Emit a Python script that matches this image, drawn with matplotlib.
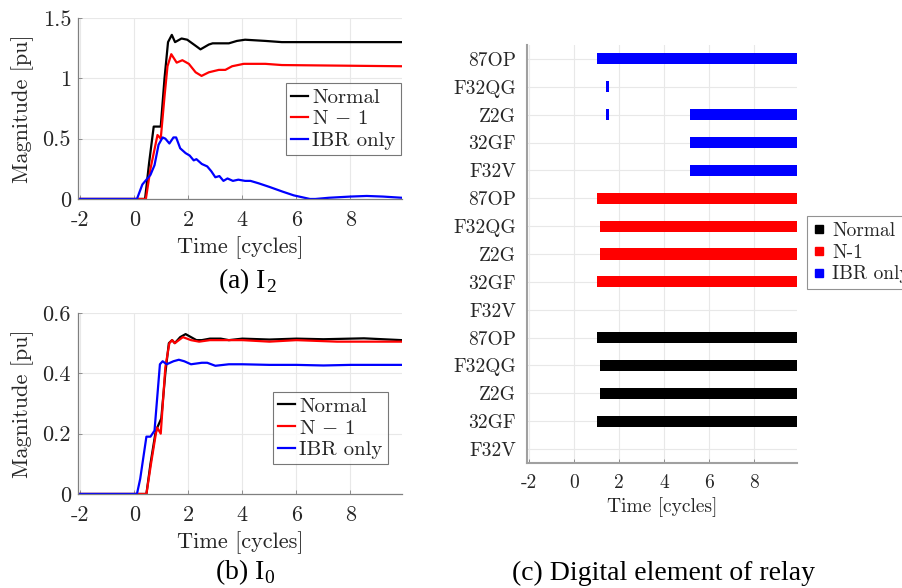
import matplotlib
matplotlib.use('Agg')
import matplotlib.pyplot as plt
from matplotlib.lines import Line2D
from matplotlib.ticker import FuncFormatter

plt.rcParams['font.family'] = 'cmr10'
plt.rcParams['mathtext.fontset'] = 'cm'
plt.rcParams['axes.unicode_minus'] = False

# (a) negative-sequence current I2
t_i2_normal = [-2.1, 0.40, 0.55, 0.72, 0.98, 1.12, 1.25, 1.39, 1.51, 1.75, 1.96, 2.33, 2.45, 2.76, 2.90,
               3.50, 3.80, 4.10, 4.85, 5.46, 9.9]
i2_normal = [0, 0, 0.30, 0.60, 0.60, 1.00, 1.30, 1.36, 1.30, 1.33, 1.32, 1.26, 1.24, 1.28, 1.29,
             1.29, 1.31, 1.32, 1.31, 1.30, 1.30]
t_i2_n1 = [-2.1, 0.43, 0.60, 0.86, 0.98, 1.12, 1.23, 1.37, 1.57, 1.78, 2.02, 2.27, 2.49, 2.76, 3.13,
           3.37, 3.62, 4.05, 4.85, 5.46, 9.9]
i2_n1 = [0, 0, 0.25, 0.53, 0.50, 0.85, 1.10, 1.20, 1.13, 1.15, 1.12, 1.05, 1.02, 1.05, 1.07,
         1.07, 1.10, 1.12, 1.12, 1.11, 1.10]
t_i2_ibr = [-2.1, 0.10, 0.30, 0.60, 0.75, 0.90, 1.05, 1.15, 1.30, 1.45, 1.55, 1.70, 1.90, 2.05, 2.20,
            2.30, 2.50, 2.70, 2.85, 3.00, 3.15, 3.30, 3.45, 3.65, 3.85, 4.10, 4.30, 4.60, 5.00,
            5.50, 5.90, 6.50, 6.70, 7.20, 8.00, 8.60, 9.20, 9.9]
i2_ibr = [0, 0, 0.12, 0.20, 0.28, 0.45, 0.51, 0.50, 0.46, 0.51, 0.51, 0.42, 0.38, 0.36, 0.32,
          0.33, 0.29, 0.27, 0.23, 0.18, 0.19, 0.15, 0.17, 0.15, 0.16, 0.15, 0.15, 0.13, 0.10,
          0.06, 0.03, 0.00, 0.00, 0.01, 0.02, 0.025, 0.02, 0.01]

# (b) zero-sequence current I0
t_i0_normal = [-2.1, 0.45, 0.60, 0.78, 0.85, 1.00, 1.15, 1.28, 1.40, 1.50, 1.70, 1.90, 2.10, 2.30, 2.50,
               2.80, 3.20, 3.50, 4.00, 5.00, 6.00, 7.00, 8.00, 8.50, 9.9]
i0_normal = [0, 0, 0.10, 0.20, 0.22, 0.25, 0.40, 0.50, 0.51, 0.50, 0.52, 0.53, 0.52, 0.51, 0.51,
             0.515, 0.515, 0.51, 0.515, 0.512, 0.515, 0.513, 0.515, 0.516, 0.51]
t_i0_n1 = [-2.1, 0.45, 0.62, 0.80, 0.85, 0.98, 1.15, 1.30, 1.40, 1.50, 1.80, 2.10, 2.40, 2.80, 4.00,
           5.00, 6.00, 7.50, 9.9]
i0_n1 = [0, 0, 0.10, 0.20, 0.22, 0.20, 0.42, 0.50, 0.51, 0.50, 0.52, 0.51, 0.505, 0.51, 0.51,
         0.505, 0.51, 0.505, 0.505]
t_i0_ibr = [-2.1, 0.10, 0.22, 0.45, 0.60, 0.75, 0.95, 1.05, 1.20, 1.45, 1.65, 1.85, 2.10, 2.50, 2.70,
            3.00, 3.50, 4.00, 5.00, 6.00, 7.00, 8.00, 9.9]
i0_ibr = [0, 0, 0.05, 0.19, 0.19, 0.21, 0.43, 0.44, 0.43, 0.44, 0.445, 0.44, 0.43, 0.435, 0.435,
          0.425, 0.43, 0.43, 0.428, 0.428, 0.426, 0.428, 0.428]

# (c) relay digital elements: pickup intervals (start, end) per row, top row first
elements = ['87OP', 'F32QG', 'Z2G', '32GF', 'F32V']
t_end = 9.9
ibr_spans = [[(1.02, t_end)], [(1.42, 1.55)], [(1.42, 1.55), (5.15, t_end)], [(5.15, t_end)], [(5.15, t_end)]]
n1_spans = [[(1.02, t_end)], [(1.15, t_end)], [(1.15, t_end)], [(1.02, t_end)], []]
normal_spans = [[(1.02, t_end)], [(1.15, t_end)], [(1.15, t_end)], [(1.02, t_end)], []]

c_normal = 'black'
c_n1 = '#ff0000'
c_ibr = '#0000ff'
text_c = '#262626'
grid_c = '#e8e8e8'
spine_c = '#7f7f7f'
xlim = (-2.08, 9.9)
xticks = [-2, 0, 2, 4, 6, 8]

fig = plt.figure(figsize=(9.02, 5.88), dpi=100)
fmt = FuncFormatter(lambda v, p: '{:g}'.format(v))


def style_axes(ax, size, xpad):
    ax.set_xlim(*xlim)
    ax.set_xticks(xticks)
    ax.xaxis.set_major_formatter(fmt)
    for s in ['top', 'right']:
        ax.spines[s].set_visible(False)
    for s in ['left', 'bottom']:
        ax.spines[s].set_color(spine_c)
        ax.spines[s].set_linewidth(0.9)
    ax.tick_params(direction='in', length=3, width=0.6, colors=spine_c, labelcolor=text_c,
                   labelsize=size)
    ax.tick_params(axis='x', pad=xpad)
    ax.grid(True, color=grid_c, linewidth=0.8)
    ax.set_axisbelow(True)
    ax.set_xlabel('Time [cycles]', fontsize=size, color=text_c, labelpad=5)


def current_panel(rect, series, yticks, ymax, legend_xy):
    ax = fig.add_axes(rect)
    for t, v, c, lab in series:
        ax.plot(t, v, color=c, linewidth=1.6, label=lab)
    ax.set_ylim(0, ymax)
    ax.set_yticks(yticks)
    ax.yaxis.set_major_formatter(fmt)
    style_axes(ax, 16, 8)
    ax.tick_params(axis='y', pad=5)
    ax.set_ylabel('Magnitude [pu]', fontsize=16, color=text_c, labelpad=6)
    leg = ax.legend(loc='upper left', bbox_to_anchor=legend_xy, bbox_transform=fig.transFigure,
                    borderaxespad=0, fontsize=15, handlelength=0.8, handletextpad=0.2,
                    labelspacing=0.15, borderpad=0.25, frameon=True, fancybox=False)
    leg.get_frame().set_edgecolor('#555555')
    leg.get_frame().set_linewidth(0.8)
    for txt in leg.get_texts():
        txt.set_color(text_c)
    return ax


ax_a = current_panel([0.0865, 0.6616, 0.359, 0.3078],
                     [(t_i2_normal, i2_normal, c_normal, 'Normal'),
                      (t_i2_n1, i2_n1, c_n1, 'N $-$ 1'),
                      (t_i2_ibr, i2_ibr, c_ibr, 'IBR only')],
                     [0, 0.5, 1, 1.5], 1.5, (286 / 902, 1 - 83 / 588))

ax_b = current_panel([0.0865, 0.1599, 0.359, 0.3078],
                     [(t_i0_normal, i0_normal, c_normal, 'Normal'),
                      (t_i0_n1, i0_n1, c_n1, 'N $-$ 1'),
                      (t_i0_ibr, i0_ibr, c_ibr, 'IBR only')],
                     [0, 0.2, 0.4, 0.6], 0.6, (273 / 902, 1 - 392 / 588))

# relay element timeline
ax_c = fig.add_axes([0.5843, 0.2126, 0.2993, 0.7109])
groups = [(ibr_spans, c_ibr), (n1_spans, c_n1), (normal_spans, c_normal)]
n_rows = len(elements) * len(groups)
labels = []
row = n_rows
for spans, color in groups:
    for name, sp in zip(elements, spans):
        if sp:
            ax_c.broken_barh([(a, b - a) for a, b in sp], (row - 0.2, 0.4), facecolor=color,
                             edgecolor='none')
        labels.append(name)
        row -= 1
ax_c.set_ylim(0.5, n_rows + 0.5)
style_axes(ax_c, 14, 8)
ax_c.set_yticks(list(range(n_rows, 0, -1)))
ax_c.set_yticklabels(labels)
ax_c.tick_params(axis='y', length=0, pad=8)
ax_c.xaxis.labelpad = 4
ax_c.spines['left'].set_color('#a0a0a0')
ax_c.spines['left'].set_linewidth(1.5)
ax_c.spines['bottom'].set_color('#a0a0a0')
ax_c.spines['bottom'].set_linewidth(1.5)

handles = [Line2D([], [], linestyle='none', marker='s', markersize=6, color=c)
           for c in (c_normal, c_n1, c_ibr)]
leg_c = ax_c.legend(handles, ['Normal', 'N-1', 'IBR only'], loc='upper left',
                    bbox_to_anchor=(807 / 902, 1 - 216 / 588), bbox_transform=fig.transFigure,
                    borderaxespad=0, fontsize=14, handlelength=0.6, handletextpad=0.4,
                    labelspacing=0.2, borderpad=0.3, frameon=True, fancybox=False)
leg_c.get_frame().set_edgecolor('#777777')
leg_c.get_frame().set_linewidth(0.8)
for txt in leg_c.get_texts():
    txt.set_color(text_c)

# captions
cap = dict(family='Liberation Serif', fontsize=20, ha='center', va='center', color='black')
fig.text(247 / 902, 1 - 281 / 588, '(a) I$_\\mathregular{2}$', **cap)
fig.text(245 / 902, 1 - 572 / 588, '(b) I$_\\mathregular{0}$', **cap)
fig.text(663 / 902, 1 - 573 / 588, '(c) Digital element of relay', **cap)

fig.savefig('out.png', dpi=100)
